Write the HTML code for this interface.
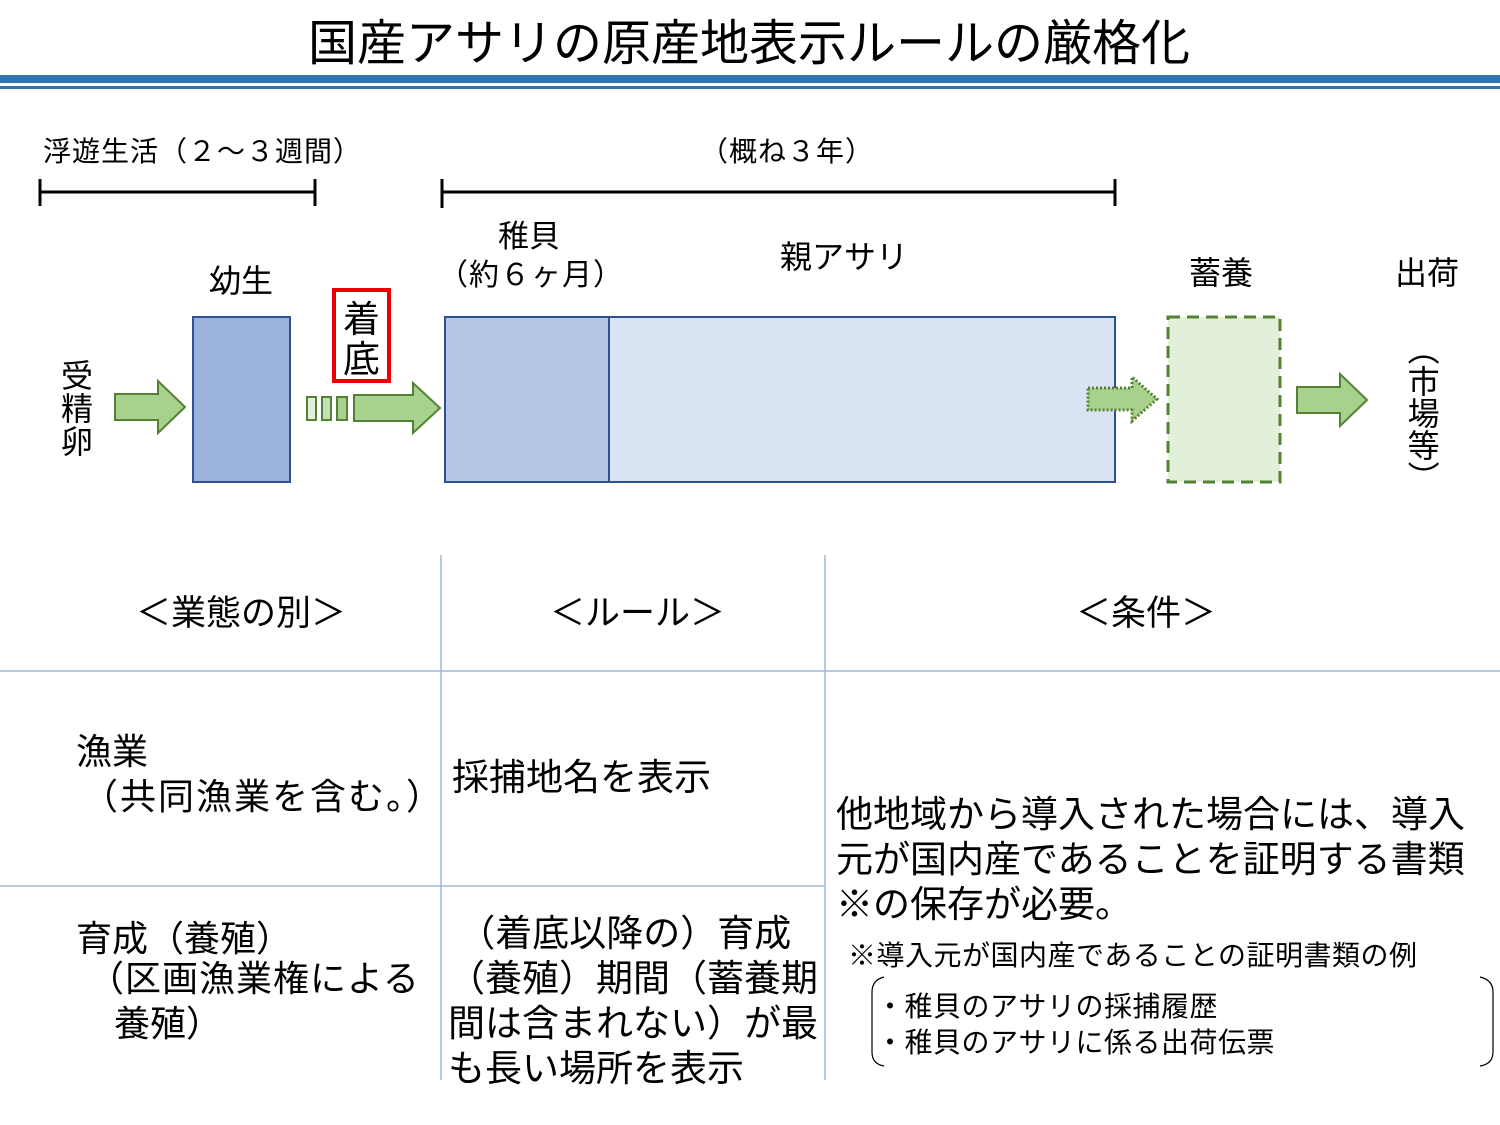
<!DOCTYPE html>
<html><head><meta charset="utf-8"><style>
html,body{margin:0;padding:0;background:#fff}
body{width:1500px;height:1125px;position:relative;overflow:hidden;font-family:"Liberation Sans","Noto Sans CJK JP",sans-serif;color:#000}
.t{position:absolute;white-space:nowrap;line-height:1}
.v{writing-mode:vertical-rl}
</style></head><body>
<svg width="1500" height="1125" style="position:absolute;left:0;top:0">
<rect x="0" y="75" width="1500" height="8" fill="#2e75b6"/>
<rect x="0" y="86" width="1500" height="3" fill="#2e75b6"/>
<g stroke="#000" stroke-width="3">
<line x1="40" y1="192" x2="315" y2="192"/><line x1="40" y1="179" x2="40" y2="206"/><line x1="315" y1="179" x2="315" y2="206"/>
<line x1="442" y1="192" x2="1115" y2="192"/><line x1="442" y1="179" x2="442" y2="208"/><line x1="1115" y1="179" x2="1115" y2="206"/>
</g>
<rect x="193" y="317" width="97" height="165" fill="#9bb3dc" stroke="#2f528f" stroke-width="2"/>
<rect x="609" y="317" width="506" height="165" fill="#dae3f3" stroke="#2f528f" stroke-width="2"/>
<rect x="445" y="317" width="164" height="165" fill="#b4c7e7" stroke="#2f528f" stroke-width="2"/>
<rect x="1168" y="317" width="112" height="165" fill="#e2f0d9" stroke="#548235" stroke-width="3" stroke-dasharray="12,7"/>
<g fill="#a9d18e" stroke="#548235" stroke-width="2">
<polygon points="115,394 158,394 158,381 185,407 158,433 158,420 115,420"/>
<polygon points="354,395 413,395 413,383 440,408 413,433 413,421 354,421"/>
<rect x="307" y="397" width="9" height="23" fill="#e2f0d9"/>
<rect x="322" y="397" width="9" height="23" fill="#c5e0b4"/>
<rect x="337" y="397" width="10" height="23"/>
<polygon points="1297,387 1340,387 1340,374 1367,400 1340,426 1340,413 1297,413"/>
<polygon points="1088,388 1132,388 1132,377 1157,399 1132,421 1132,410 1088,410" stroke-dasharray="2,2" stroke-width="3"/>
</g>
<rect x="334" y="290" width="55" height="91" fill="none" stroke="#e00" stroke-width="4"/>
<g stroke="#9fbad3" stroke-width="1.5">
<line x1="441" y1="555" x2="441" y2="1080"/>
<line x1="825" y1="555" x2="825" y2="1080"/>
<line x1="0" y1="671" x2="1500" y2="671"/>
<line x1="0" y1="886" x2="825" y2="886"/>
</g>
<path d="M884,977 Q872,980 872,992 L872,1052 Q872,1064 884,1066" fill="none" stroke="#000" stroke-width="1.2"/>
<path d="M1480,977 Q1493,980 1493,992 L1493,1052 Q1493,1064 1480,1066" fill="none" stroke="#000" stroke-width="1.2"/>
</svg>
<div class="t" style="left:290px;top:20px;font-size:49px;width:918px;text-align:center">国産アサリの原産地表示ルールの厳格化</div>
<div class="t" style="left:43px;top:138px;font-size:28px;letter-spacing:1px">浮遊生活（２～３週間）</div>
<div class="t" style="left:700px;top:138px;font-size:28px;letter-spacing:1px">（概ね３年）</div>
<div class="t" style="left:498px;top:221px;font-size:31px">稚貝</div>
<div class="t" style="left:438px;top:261px;font-size:30px;letter-spacing:1px">（約６ヶ月）</div>
<div class="t" style="left:780px;top:241px;font-size:32px">親アサリ</div>
<div class="t" style="left:209px;top:265px;font-size:32px">幼生</div>
<div class="t" style="left:343px;top:300px;font-size:37px;line-height:40px">着<br>底</div>
<div class="t" style="left:61px;top:360px;font-size:32px;line-height:33px">受<br>精<br>卵</div>
<div class="t" style="left:1189px;top:257px;font-size:32px">蓄養</div>
<div class="t" style="left:1395px;top:257px;font-size:32px">出荷</div>
<div class="t v" style="left:1404px;top:333px;font-size:32px;line-height:1.05">（市場等）</div>
<div class="t" style="left:136px;top:596px;font-size:35px">＜業態の別＞</div>
<div class="t" style="left:550px;top:596px;font-size:35px">＜ルール＞</div>
<div class="t" style="left:1076px;top:596px;font-size:35px">＜条件＞</div>
<div class="t" style="left:76px;top:734px;font-size:36px">漁業</div>
<div class="t" style="left:82px;top:779px;font-size:36px;letter-spacing:2px">（共同漁業を含む。）</div>
<div class="t" style="left:452px;top:759px;font-size:37px">採捕地名を表示</div>
<div class="t" style="left:836px;top:792px;font-size:37px;line-height:45px">他地域から導入された場合には、導入<br>元が国内産であることを証明する書類<br>※の保存が必要。</div>
<div class="t" style="left:76px;top:916px;font-size:36px;line-height:45px">育成（養殖）</div>
<div class="t" style="left:88px;top:961px;font-size:36px;letter-spacing:1px">（区画漁業権による</div>
<div class="t" style="left:114px;top:1006px;font-size:36px">養殖）</div>
<div class="t" style="left:448px;top:911px;font-size:37px;line-height:45px">&nbsp;（着底以降の）育成<br>（養殖）期間（蓄養期<br>間は含まれない）が最<br>も長い場所を表示</div>
<div class="t" style="left:848px;top:942px;font-size:28px;letter-spacing:0.5px">※導入元が国内産であることの証明書類の例</div>
<div class="t" style="left:876px;top:989px;font-size:28px;line-height:36px;letter-spacing:0.5px">・稚貝のアサリの採捕履歴<br>・稚貝のアサリに係る出荷伝票</div>
</body></html>
